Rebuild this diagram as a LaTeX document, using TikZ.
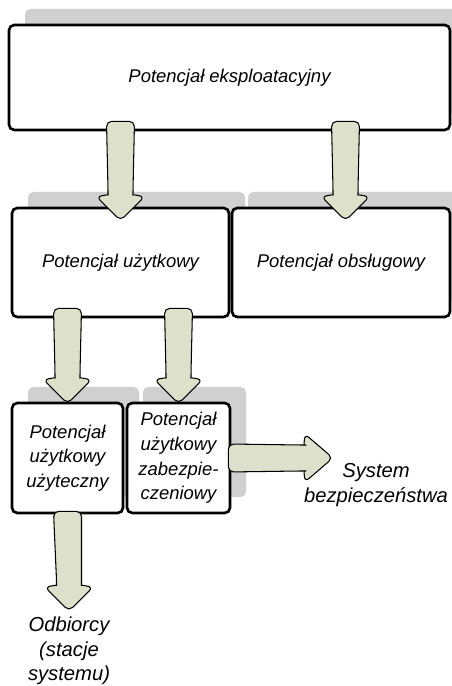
\documentclass[tikz,border=0pt]{standalone}
\usepackage{fontspec}
\setmainfont{Liberation Sans}
\usepackage{xcolor}
\usepackage{tikz}
\usetikzlibrary{calc,shadows}
\definecolor{shadowGray}{HTML}{D0D0D0}
\definecolor{arrowFill}{HTML}{DDE0CA}
\tikzset{
  lab/.style={font=\itshape\fontsize{10.5}{14}\selectfont, align=center},
  outLab/.style={font=\itshape\fontsize{11.5}{14.5}\selectfont, align=center},
  box/.style={lab, draw=black, line width=1.5pt, rounded corners=3pt, fill=white,
    general shadow={fill=shadowGray, draw=none, shadow xshift=0.32cm, shadow yshift=0.32cm}},
  flowArrow/.style={fill=arrowFill, draw=black, line width=0.6pt, rounded corners=3pt}
}
% block arrows: shaft start, tip
\newcommand{\flowdown}[2]{%
  \draw[flowArrow] ($(#1)+(-0.28,0)$) -- ($(#2)+(-0.25,0.62)$)
    .. controls ($(#2)+(-0.25,0.52)$) .. ($(#2)+(-0.48,0.48)$) -- (#2)
    -- ($(#2)+(0.48,0.48)$) .. controls ($(#2)+(0.25,0.52)$) .. ($(#2)+(0.25,0.62)$)
    -- ($(#1)+(0.28,0)$) -- cycle;}
\newcommand{\flowright}[2]{%
  \draw[flowArrow] ($(#1)+(0,0.28)$) -- ($(#2)+(-0.66,0.26)$)
    .. controls ($(#2)+(-0.58,0.26)$) .. ($(#2)+(-0.56,0.48)$) -- (#2)
    -- ($(#2)+(-0.56,-0.48)$) .. controls ($(#2)+(-0.58,-0.26)$) .. ($(#2)+(-0.66,-0.26)$)
    -- ($(#1)+(0,-0.28)$) -- cycle;}

\begin{document}
\begin{tikzpicture}
  \useasboundingbox (0,0) rectangle (9.02,13.72);

  \node[box, minimum width=8.82cm, minimum height=2.1cm] (eksp) at (4.59,12.17) {Potencjał eksploatacyjny};
  \node[box, minimum width=4.34cm, minimum height=2.18cm] (uzyt) at (2.41,8.47) {Potencjał użytkowy};
  \node[box, minimum width=4.36cm, minimum height=2.18cm] (obsl) at (6.82,8.47) {Potencjał obsługowy};
  \node[box, minimum width=2.22cm, minimum height=2.2cm] (uzA) at (1.35,4.56) {Potencjał\\użytkowy\\użyteczny};
  \node[box, minimum width=2.06cm, minimum height=2.2cm] (uzB) at (3.57,4.56) {Potencjał\\użytkowy\\zabezpie-\\czeniowy};
  \node[outLab] (sys) at (7.52,4.02) {System\\bezpieczeństwa};
  \node[outLab, font=\itshape\fontsize{11.5}{13.8}\selectfont] (odb) at (1.38,0.7) {Odbiorcy\\(stacje\\systemu)};

  \coordinate (a1s) at ([yshift=0.2cm]eksp.south -| uzyt.north);
  \coordinate (a1t) at ([yshift=-0.28cm]uzyt.north);
  \coordinate (a2s) at ([xshift=0.09cm, yshift=0.2cm]eksp.south -| obsl.north);
  \coordinate (a2t) at ([xshift=0.09cm, yshift=-0.28cm]obsl.north);
  \coordinate (a3s) at ([yshift=0.2cm]uzyt.south -| uzA.north);
  \coordinate (a3t) at ([yshift=-0.04cm]uzA.north);
  \coordinate (a4s) at ([yshift=0.2cm]uzyt.south -| uzB.north);
  \coordinate (a4t) at ([yshift=-0.04cm]uzB.north);
  \coordinate (a5s) at ([yshift=0.06cm]uzA.south);
  \coordinate (a5t) at ([yshift=0.0cm]odb.north);
  \coordinate (a6s) at ([xshift=-0.06cm]uzB.east);
  \coordinate (a6t) at ([xshift=0.7cm]sys.west |- uzB.east);

  \flowdown{a1s}{a1t}
  \flowdown{a2s}{a2t}
  \flowdown{a3s}{a3t}
  \flowdown{a4s}{a4t}
  \flowdown{a5s}{a5t}
  \flowright{a6s}{a6t}
\end{tikzpicture}
\end{document}
